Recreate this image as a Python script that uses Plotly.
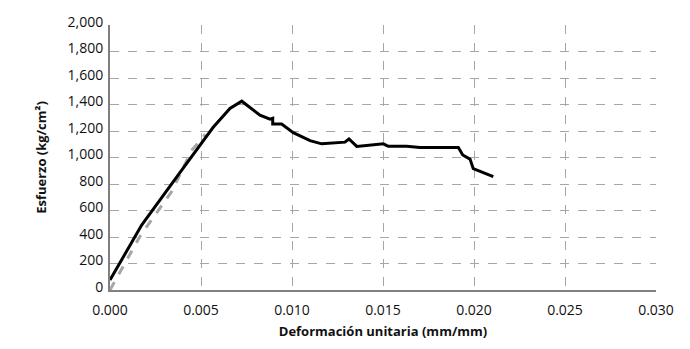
import plotly.graph_objects as go

# Measured stress-strain curve (black)
strain_meas = [0.0, 0.00174, 0.00385, 0.00566, 0.00659, 0.00724, 0.00824, 0.00879,
               0.00894, 0.00894, 0.00943, 0.01007, 0.01099, 0.01163, 0.01291, 0.01313,
               0.01356, 0.01502, 0.01529, 0.0163, 0.01703, 0.01914, 0.01938, 0.01978,
               0.01996, 0.02106]
stress_meas = [75, 490, 887, 1226, 1370, 1425, 1320, 1289,
               1296, 1253, 1253, 1188, 1127, 1103, 1116, 1140,
               1084, 1103, 1084, 1084, 1075, 1075, 1019, 988,
               916, 856]

# Elastic reference curve (gray dashed)
strain_ref = [0.0, 0.00165, 0.00339, 0.00449, 0.00525]
stress_ref = [0, 406, 743, 1055, 1175]

x_ticks = [0.0, 0.005, 0.010, 0.015, 0.020, 0.025, 0.030]
y_ticks = [0, 200, 400, 600, 800, 1000, 1200, 1400, 1600, 1800, 2000]

font_family = "'Open Sans', Lato, sans-serif"

fig = go.Figure()
fig.add_trace(go.Scatter(
    x=strain_ref, y=stress_ref, mode="lines",
    line=dict(color="#a6a6a6", width=3, dash="dash"),
    showlegend=False, hoverinfo="skip",
))
fig.add_trace(go.Scatter(
    x=strain_meas, y=stress_meas, mode="lines",
    line=dict(color="#000000", width=3),
    showlegend=False,
))

fig.update_layout(
    width=690, height=349,
    margin=dict(l=110, r=34, t=16, b=56),
    paper_bgcolor="white", plot_bgcolor="white",
    font=dict(family=font_family, size=14, color="#111111"),
    xaxis=dict(
        range=[0, 0.030], tickvals=x_ticks, tickformat=".3f",
        showgrid=True, gridcolor="#a6a6a6", gridwidth=1, griddash="dash",
        showline=True, linecolor="#808080", linewidth=2,
        zeroline=False, ticks="outside", ticklen=6, tickcolor="rgba(0,0,0,0)",
        title=dict(text="<b>Deformación unitaria (mm/mm)</b>",
                   font=dict(size=13, family=font_family), standoff=9),
    ),
    yaxis=dict(
        range=[0, 2000], tickvals=y_ticks, tickformat=",",
        showgrid=True, gridcolor="#a6a6a6", gridwidth=1, griddash="dash",
        showline=True, linecolor="#808080", linewidth=2,
        zeroline=False, ticks="outside", ticklen=2, tickcolor="rgba(0,0,0,0)",
        ticklabelshift=-3,
        title=dict(text="<b>Esfuerzo (kg/cm²)</b>",
                   font=dict(size=13, family=font_family), standoff=18),
    ),
)

fig.write_html("out.html")
